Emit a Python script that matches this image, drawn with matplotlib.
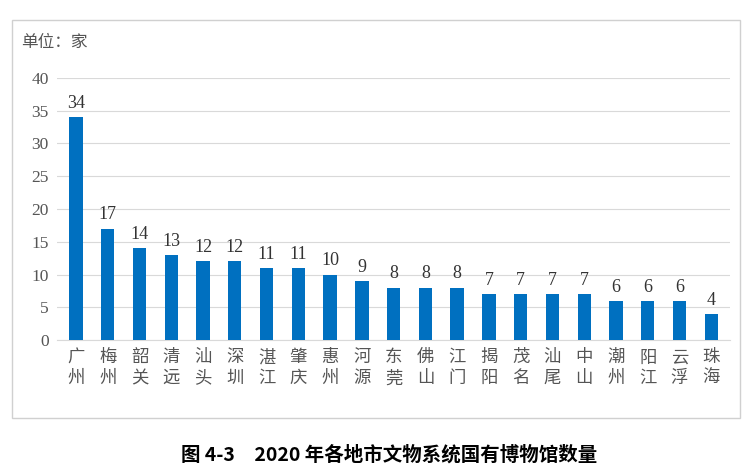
import matplotlib.pyplot as plt
import matplotlib.patches as mpatches

plt.rcParams["font.family"] = ["Noto Sans CJK SC", "DejaVu Sans"]

cities = ["广州", "梅州", "韶关", "清远", "汕头", "深圳", "湛江", "肇庆", "惠州", "河源", "东莞",
          "佛山", "江门", "揭阳", "茂名", "汕尾", "中山", "潮州", "阳江", "云浮", "珠海"]
counts = [34, 17, 14, 13, 12, 12, 11, 11, 10, 9, 8, 8, 8, 7, 7, 7, 7, 6, 6, 6, 4]
# 2020
fig = plt.figure(figsize=(7.49, 4.75), dpi=100)
fig.patches.append(mpatches.Rectangle((0.016, 0.12), 0.972, 0.838, transform=fig.transFigure,
                                      fill=False, edgecolor="#d0d0d0", linewidth=1))
ax = fig.add_axes([0.076, 0.284, 0.899, 0.552])
x = range(len(cities))
plt.bar(x, counts, width=0.42, color="#0070C0", zorder=3)
for i, v in zip(x, counts):
    plt.text(i, v + 0.8, str(v), ha="center", va="bottom", fontsize=13,
             family=["Liberation Serif", "DejaVu Serif"], color="#333333")
plt.xticks(list(x), ["\n".join(c) for c in cities], fontsize=12.5, color="#555555")
plt.yticks(range(0, 41, 5), fontsize=12.5, family=["Liberation Serif", "DejaVu Serif"], color="#555555")
plt.ylim(0, 40)
plt.xlim(-0.6, len(cities) - 0.4)
plt.grid(axis="y", color="#d9d9d9", linewidth=0.8, zorder=0)
ax.tick_params(length=0, pad=6)
for s in ["top", "right", "left"]:
    ax.spines[s].set_visible(False)
ax.spines["bottom"].set_color("#d9d9d9")
fig.text(0.028, 0.91, "单位：家", fontsize=12, color="#555555", va="center")
fig.text(0.52, 0.042, "图 4-3　2020 年各地市文物系统国有博物馆数量", fontsize=14, fontweight="bold",
         ha="center", va="center")
plt.savefig("out.png")
